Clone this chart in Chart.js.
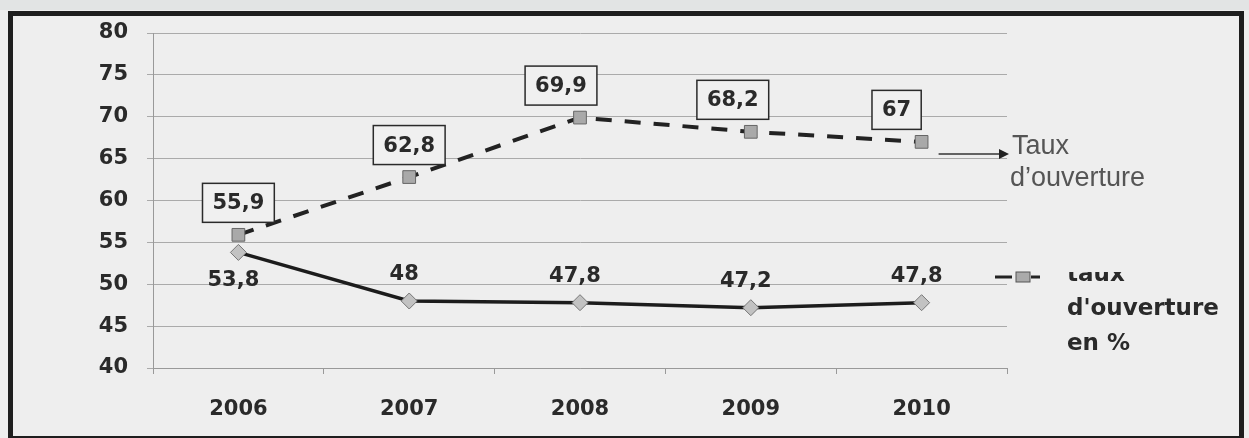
<!DOCTYPE html>
<html>
<head>
<meta charset="utf-8">
<script src="https://cdn.jsdelivr.net/npm/chart.js@4/dist/chart.umd.min.js"></script>
<style>
  html, body { margin: 0; padding: 0; background: #eeeeee; }
  canvas { display: block; }
</style>
</head>
<body>
<canvas id="c" width="1249" height="438"></canvas>
<script>
// data
const years = ['2006', '2007', '2008', '2009', '2010'];
const tauxOuverture = [55.9, 62.8, 69.9, 68.2, 67];
const tauxPct = [53.8, 48, 47.8, 47.2, 47.8];
const yTicks = [40, 45, 50, 55, 60, 65, 70, 75, 80];

// label placement tweaks (styling only)
const boxShiftX = [0, 0, -19, -18, -25];
const solidBelow = [true, false, false, false, false];

const fmt = v => String(v).replace('.', ',');
const boldFont = 'bold 21px "DejaVu Sans"';

const decor = {
  id: 'decor',
  beforeDraw(chart) {
    const ctx = chart.ctx;
    ctx.save();
    ctx.fillStyle = '#eeeeee';
    ctx.fillRect(0, 0, chart.width, chart.height);
    ctx.fillStyle = '#e2e4e4';
    ctx.fillRect(0, 0, chart.width, 10);
    ctx.restore();
  },
  afterDraw(chart) {
    const ctx = chart.ctx;
    const area = chart.chartArea;
    const dashed = chart.getDatasetMeta(0).data;
    const solid = chart.getDatasetMeta(1).data;
    ctx.save();

    // boxed labels on the dashed series
    ctx.font = boldFont;
    ctx.textAlign = 'center';
    ctx.textBaseline = 'middle';
    dashed.forEach((pt, i) => {
      const txt = fmt(tauxOuverture[i]);
      const w = ctx.measureText(txt).width + 20;
      const h = 39;
      const cx = pt.x + boxShiftX[i];
      const cy = pt.y - 32;
      ctx.fillStyle = '#f0f0f0';
      ctx.fillRect(cx - w / 2, cy - h / 2, w, h);
      ctx.strokeStyle = '#2a2a2a';
      ctx.lineWidth = 1.5;
      ctx.strokeRect(cx - w / 2, cy - h / 2, w, h);
      ctx.fillStyle = '#2a2a2a';
      ctx.fillText(txt, cx, cy + 1);
    });

    // plain labels on the solid series
    solid.forEach((pt, i) => {
      ctx.fillStyle = '#2a2a2a';
      const dy = solidBelow[i] ? 28 : -26;
      ctx.fillText(fmt(tauxPct[i]), pt.x - 5, pt.y + dy);
    });

    // arrow annotation
    const last = dashed[dashed.length - 1];
    const ay = last.y + 12;
    ctx.strokeStyle = '#333';
    ctx.lineWidth = 1.5;
    ctx.beginPath();
    ctx.moveTo(last.x + 17, ay);
    ctx.lineTo(area.right - 6, ay);
    ctx.stroke();
    ctx.fillStyle = '#222';
    ctx.beginPath();
    ctx.moveTo(area.right + 2, ay);
    ctx.lineTo(area.right - 8, ay - 5);
    ctx.lineTo(area.right - 8, ay + 5);
    ctx.closePath();
    ctx.fill();
    ctx.fillStyle = '#555';
    ctx.font = '27px "Liberation Sans"';
    ctx.textAlign = 'left';
    ctx.textBaseline = 'alphabetic';
    ctx.fillText('Taux', area.right + 5, ay);
    ctx.fillText('d\u2019ouverture', area.right + 3, ay + 32);

    // legend
    const ly = area.top + 244;
    const lx = area.right - 12;
    ctx.strokeStyle = '#222';
    ctx.lineWidth = 3;
    ctx.beginPath();
    ctx.moveTo(lx, ly);
    ctx.lineTo(lx + 17, ly);
    ctx.moveTo(lx + 36, ly);
    ctx.lineTo(lx + 45, ly);
    ctx.stroke();
    ctx.fillStyle = '#aaa';
    ctx.strokeStyle = '#555';
    ctx.lineWidth = 1;
    ctx.fillRect(lx + 21, ly - 5, 14, 10);
    ctx.strokeRect(lx + 21, ly - 5, 14, 10);

    ctx.font = 'bold 23px "DejaVu Sans"';
    ctx.fillStyle = '#2a2a2a';
    ctx.textBaseline = 'middle';
    ctx.save();
    ctx.beginPath();
    ctx.rect(lx + 60, ly - 5, 200, 40);
    ctx.clip();
    ctx.fillText('taux', lx + 72, ly - 2);
    ctx.restore();
    ctx.fillText("d'ouverture", lx + 72, ly + 32);
    ctx.fillText('en %', lx + 72, ly + 67);

    // outer frame
    ctx.strokeStyle = '#1e1e1e';
    ctx.lineWidth = 5;
    ctx.strokeRect(10.5, 13.5, chart.width - 18, chart.height - 13);
    ctx.restore();
  }
};

new Chart(document.getElementById('c'), {
  type: 'line',
  data: {
    labels: years,
    datasets: [
      {
        label: "taux d'ouverture en %",
        data: tauxOuverture,
        borderColor: '#222',
        borderWidth: 4,
        borderDash: [16, 13],
        pointStyle: 'rect',
        pointRadius: 9,
        pointBackgroundColor: '#a9a9a9',
        pointBorderColor: '#666',
        pointBorderWidth: 1,
        tension: 0
      },
      {
        label: 'Taux',
        data: tauxPct,
        borderColor: '#1c1c1c',
        borderWidth: 3.5,
        pointStyle: 'rectRot',
        pointRadius: 8,
        pointBackgroundColor: '#c2c2c2',
        pointBorderColor: '#777',
        pointBorderWidth: 1,
        tension: 0
      }
    ]
  },
  options: {
    responsive: false,
    animation: false,
    layout: { padding: { left: 0, right: 242, top: 33, bottom: 0 } },
    plugins: {
      legend: { display: false },
      tooltip: { enabled: false }
    },
    scales: {
      x: {
        offset: true,
        grid: {
          offset: true,
          drawOnChartArea: false,
          drawTicks: true,
          tickLength: 6,
          color: '#999'
        },
        border: { display: true, color: '#999', width: 1 },
        ticks: { font: { family: 'DejaVu Sans', size: 21, weight: 'bold' }, color: '#2a2a2a', padding: 23 },
        afterFit(scale) { scale.height = 70; }
      },
      y: {
        min: 40,
        max: 80,
        afterBuildTicks(scale) { scale.ticks = yTicks.map(v => ({ value: v })); },
        grid: { color: '#aaaaaa', lineWidth: 1, tickLength: 6 },
        border: { display: true, color: '#999', width: 1 },
        ticks: { font: { family: 'DejaVu Sans', size: 21, weight: 'bold' }, color: '#2a2a2a', padding: 19 },
        afterFit(scale) { scale.width = 153; }
      }
    }
  },
  plugins: [decor]
});
</script>
</body>
</html>
